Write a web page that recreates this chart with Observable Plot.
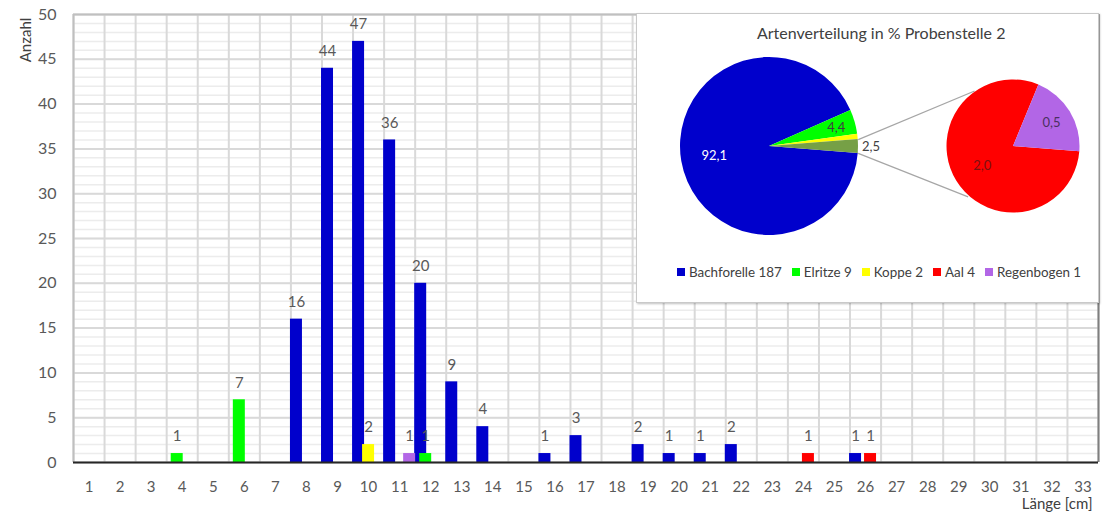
<!DOCTYPE html>
<html>
<head>
<meta charset="utf-8">
<script src="https://cdn.jsdelivr.net/npm/d3@7"></script>
<script src="https://cdn.jsdelivr.net/npm/@observablehq/plot@0.6"></script>
<style>
  html, body { margin: 0; padding: 0; background: #fff; }
  #wrap { position: relative; width: 1112px; height: 518px; overflow: hidden; font-family: Lato, "Open Sans", sans-serif; }
  #bars { position: absolute; left: 0; top: 0; }
  #ylabel { position: absolute; left: 25px; top: 40px; transform: translate(-50%, -50%) rotate(-90deg); font-size: 15px; color: #404040; white-space: nowrap; line-height: 18px; }
  #inset { position: absolute; left: 636px; top: 13px; width: 461px; height: 288px; background: #fff;
           border: 1px solid #c9c9c9; box-shadow: 1px 1px 2px rgba(0,0,0,0.25); }
  #pie { position: absolute; left: 0; top: 0; }
  #title { position: absolute; left: 120px; top: 10px; font-size: 16px; color: #404040; white-space: nowrap; line-height: 18px; }
  #legend { position: absolute; left: 40px; top: 249px; display: flex; align-items: center; font-size: 13.4px; color: #404040; white-space: nowrap; line-height: 18px; }
  .item { display: flex; align-items: center; margin-right: 10px; }
  .sw { width: 8px; height: 8px; margin-right: 4px; }
</style>
</head>
<body>
<div id="wrap">
  <div id="bars"></div>
  <div id="ylabel">Anzahl</div>
  <div id="inset">
    <div id="pie"></div>
    <div id="title">Artenverteilung in % Probenstelle 2</div>
    <div id="legend"></div>
  </div>
</div>
<script>
// ---------- data ----------
const lengths = [1,2,3,4,5,6,7,8,9,10,11,12,13,14,15,16,17,18,19,20,21,22,23,24,25,26,27,28,29,30,31,32,33];
const yTicks = [0,5,10,15,20,25,30,35,40,45,50];
const species = ["Bachforelle", "Elritze", "Koppe", "Aal", "Regenbogen"];
const speciesColors = ["#0000cc", "#00ff00", "#ffff00", "#ff0000", "#b266e6"];
const otherColor = "#76a046";

// [Länge, Anzahl]
const bachforelle = [[8,16],[9,44],[10,47],[11,36],[12,20],[13,9],[14,4],[16,1],[17,3],[19,2],[20,1],[21,1],[22,2],[26,1]];
const elritze = [[4,1],[6,7],[12,1]];
const koppe = [[10,2]];
const aal = [[24,1],[26,1]];
const regenbogen = [[11,1]];

// legend / pie counts
const pieCounts = [187, 9, 2, 4, 1];

// ---------- bar chart ----------
const seriesLists = [bachforelle, elritze, koppe, aal, regenbogen];
const slotStep = 0.161, barW = 0.386;
const barData = [];
seriesLists.forEach((list, si) => {
  list.forEach(([len, count]) => {
    const xc = len + (si - 2) * slotStep;
    barData.push({species: species[si], len, count, xc, x1: xc - barW / 2, x2: xc + barW / 2});
  });
});
const yMinor = d3.range(yTicks[0], yTicks[yTicks.length - 1] + 1, 1);
const xBounds = [lengths[0] - 0.5, ...lengths.map(d => d + 0.5)];
const xMin = xBounds[0], xMax = xBounds[xBounds.length - 1];
const yMax = yTicks[yTicks.length - 1];

const barPlot = Plot.plot({
  width: 1112, height: 518,
  marginLeft: 73, marginRight: 14, marginTop: 14, marginBottom: 56,
  style: {fontFamily: "Lato, 'Open Sans', sans-serif", background: "transparent", color: "#595959"},
  x: {type: "linear", domain: [xMin, xMax], label: null},
  y: {domain: [0, yMax], label: null},
  color: {domain: species, range: speciesColors},
  marks: [
    Plot.ruleY(yMinor, {stroke: "#ececec", strokeWidth: 1.5}),
    Plot.ruleY(yTicks, {stroke: "#d9d9d9", strokeWidth: 2}),
    Plot.ruleX(xBounds, {stroke: "#d9d9d9", strokeWidth: 2}),
    Plot.ruleX([xMin], {stroke: "#bfbfbf", strokeWidth: 2}),
    Plot.ruleX([xMax], {stroke: "#7f7f7f", strokeWidth: 2}),
    Plot.ruleY([yMax], {stroke: "#c0c0c0", strokeWidth: 2}),
    Plot.rectY(barData, {x1: "x1", x2: "x2", y: "count", fill: "species"}),
    Plot.ruleY([0], {stroke: "#262626", strokeWidth: 2}),
    Plot.text(barData, {x: "xc", y: "count", text: d => String(d.count), dy: -17, fill: "#595959", fontSize: 15}),
    Plot.axisX(lengths, {tickSize: 0, tickPadding: 19, fontSize: 15, fill: "#595959", label: null}),
    Plot.axisY(yTicks, {tickSize: 0, tickPadding: 17, fontSize: 16, fill: "#595959", label: null}),
    Plot.text(["Länge [cm]"], {text: d => d, frameAnchor: "bottom-right", dx: -6, dy: 46, textAnchor: "end", fontSize: 15, fill: "#404040"})
  ]
});
document.getElementById("bars").appendChild(barPlot);

// ---------- pie of pie ----------
const pieTotal = d3.sum(pieCounts);
const mainVals = [pieCounts[0], pieCounts[1], pieCounts[2], pieCounts[3] + pieCounts[4]];
const mainColors = [speciesColors[0], speciesColors[1], speciesColors[2], otherColor];
const secVals = [pieCounts[3], pieCounts[4]];
const secColors = [speciesColors[3], speciesColors[4]];
const otherFrac = mainVals[3] / pieTotal;
const startAngle = Math.PI / 2 + Math.PI * otherFrac;

// layout (units of main radius)
const PX = 89;
const MAIN = {cx: 0, cy: 0, r: 1};
const SEC = {cx: 244 / PX, cy: 0, r: 66.5 / PX};
const pieW = 461, pieH = 288, cxPx = 132, cyPx = 132;

const fmt = v => (v / pieTotal * 100).toFixed(1).replace(".", ",");
const polar = (c, a, f) => ({x: c.cx + f * c.r * Math.sin(a), y: c.cy + f * c.r * Math.cos(a)});

function arcsOf(vals) {
  return d3.pie().sort(null).startAngle(startAngle).endAngle(startAngle + 2 * Math.PI)(vals);
}
const mainArcs = arcsOf(mainVals);
const secArcs = arcsOf(secVals);
const mid = a => (a.startAngle + a.endAngle) / 2;

// labels
const labelSpec = [
  {arc: mainArcs[0], c: MAIN, f: 0.63, fill: "#ffffff", v: mainVals[0]},
  {arc: mainArcs[1], c: MAIN, f: 0.78, fill: "#404040", v: mainVals[1]},
  {arc: mainArcs[3], c: MAIN, f: 1.14, fill: "#404040", v: mainVals[3]},
  {arc: secArcs[0], c: SEC, f: 0.55, fill: "#7a1010", v: secVals[0]},
  {arc: secArcs[1], c: SEC, f: 0.67, fill: "#4a3060", v: secVals[1]}
];
const pieLabels = labelSpec.map(s => ({...polar(s.c, mid(s.arc), s.f), text: fmt(s.v), fill: s.fill}));

// connector lines
const upperA = mainArcs[3].startAngle, lowerA = mainArcs[3].endAngle;
const secUpper = -35 * Math.PI / 180, secLower = -138 * Math.PI / 180;
const connectors = [
  {p: polar(MAIN, upperA, 1), q: polar(SEC, secUpper, 1.02)},
  {p: polar(MAIN, lowerA, 1), q: polar(SEC, secLower, 1.02)}
].map(({p, q}) => ({x1: p.x, y1: p.y, x2: q.x, y2: q.y}));

function pieMark(index, scales) {
  const sc = (scales && scales.x) ? scales : index;
  const sx = sc.x, sy = sc.y;
  const g = d3.create("svg:g");
  const draw = (arcs, colors, c) => {
    const px = sx(c.cx), py = sy(c.cy), pr = sx(c.cx + c.r) - sx(c.cx);
    const arc = d3.arc().innerRadius(0).outerRadius(pr);
    g.append("g").attr("transform", `translate(${px},${py})`)
      .selectAll("path").data(arcs).join("path")
      .attr("d", arc).attr("fill", (d, i) => colors[i]);
  };
  draw(mainArcs, mainColors, MAIN);
  draw(secArcs, secColors, SEC);
  return g.node();
}

const piePlot = Plot.plot({
  width: pieW, height: pieH,
  marginLeft: 0, marginRight: 0, marginTop: 0, marginBottom: 0,
  style: {fontFamily: "Lato, 'Open Sans', sans-serif", background: "transparent"},
  x: {type: "linear", domain: [-cxPx / PX, (pieW - cxPx) / PX], range: [0, pieW], axis: null},
  y: {type: "linear", domain: [-(pieH - cyPx) / PX, cyPx / PX], range: [pieH, 0], axis: null},
  marks: [
    Plot.link(connectors, {x1: "x1", y1: "y1", x2: "x2", y2: "y2", stroke: "#a6a6a6", strokeWidth: 1.2}),
    pieMark,
    Plot.text(pieLabels, {x: "x", y: "y", text: "text", fill: d => d.fill, fontSize: 13})
  ]
});
document.getElementById("pie").appendChild(piePlot);

// legend
const legend = document.getElementById("legend");
species.forEach((s, i) => {
  const item = document.createElement("div");
  item.className = "item";
  const sw = document.createElement("span");
  sw.className = "sw";
  sw.style.background = speciesColors[i];
  const t = document.createElement("span");
  t.textContent = `${s} ${pieCounts[i]}`;
  item.appendChild(sw); item.appendChild(t);
  legend.appendChild(item);
});
</script>
</body>
</html>
